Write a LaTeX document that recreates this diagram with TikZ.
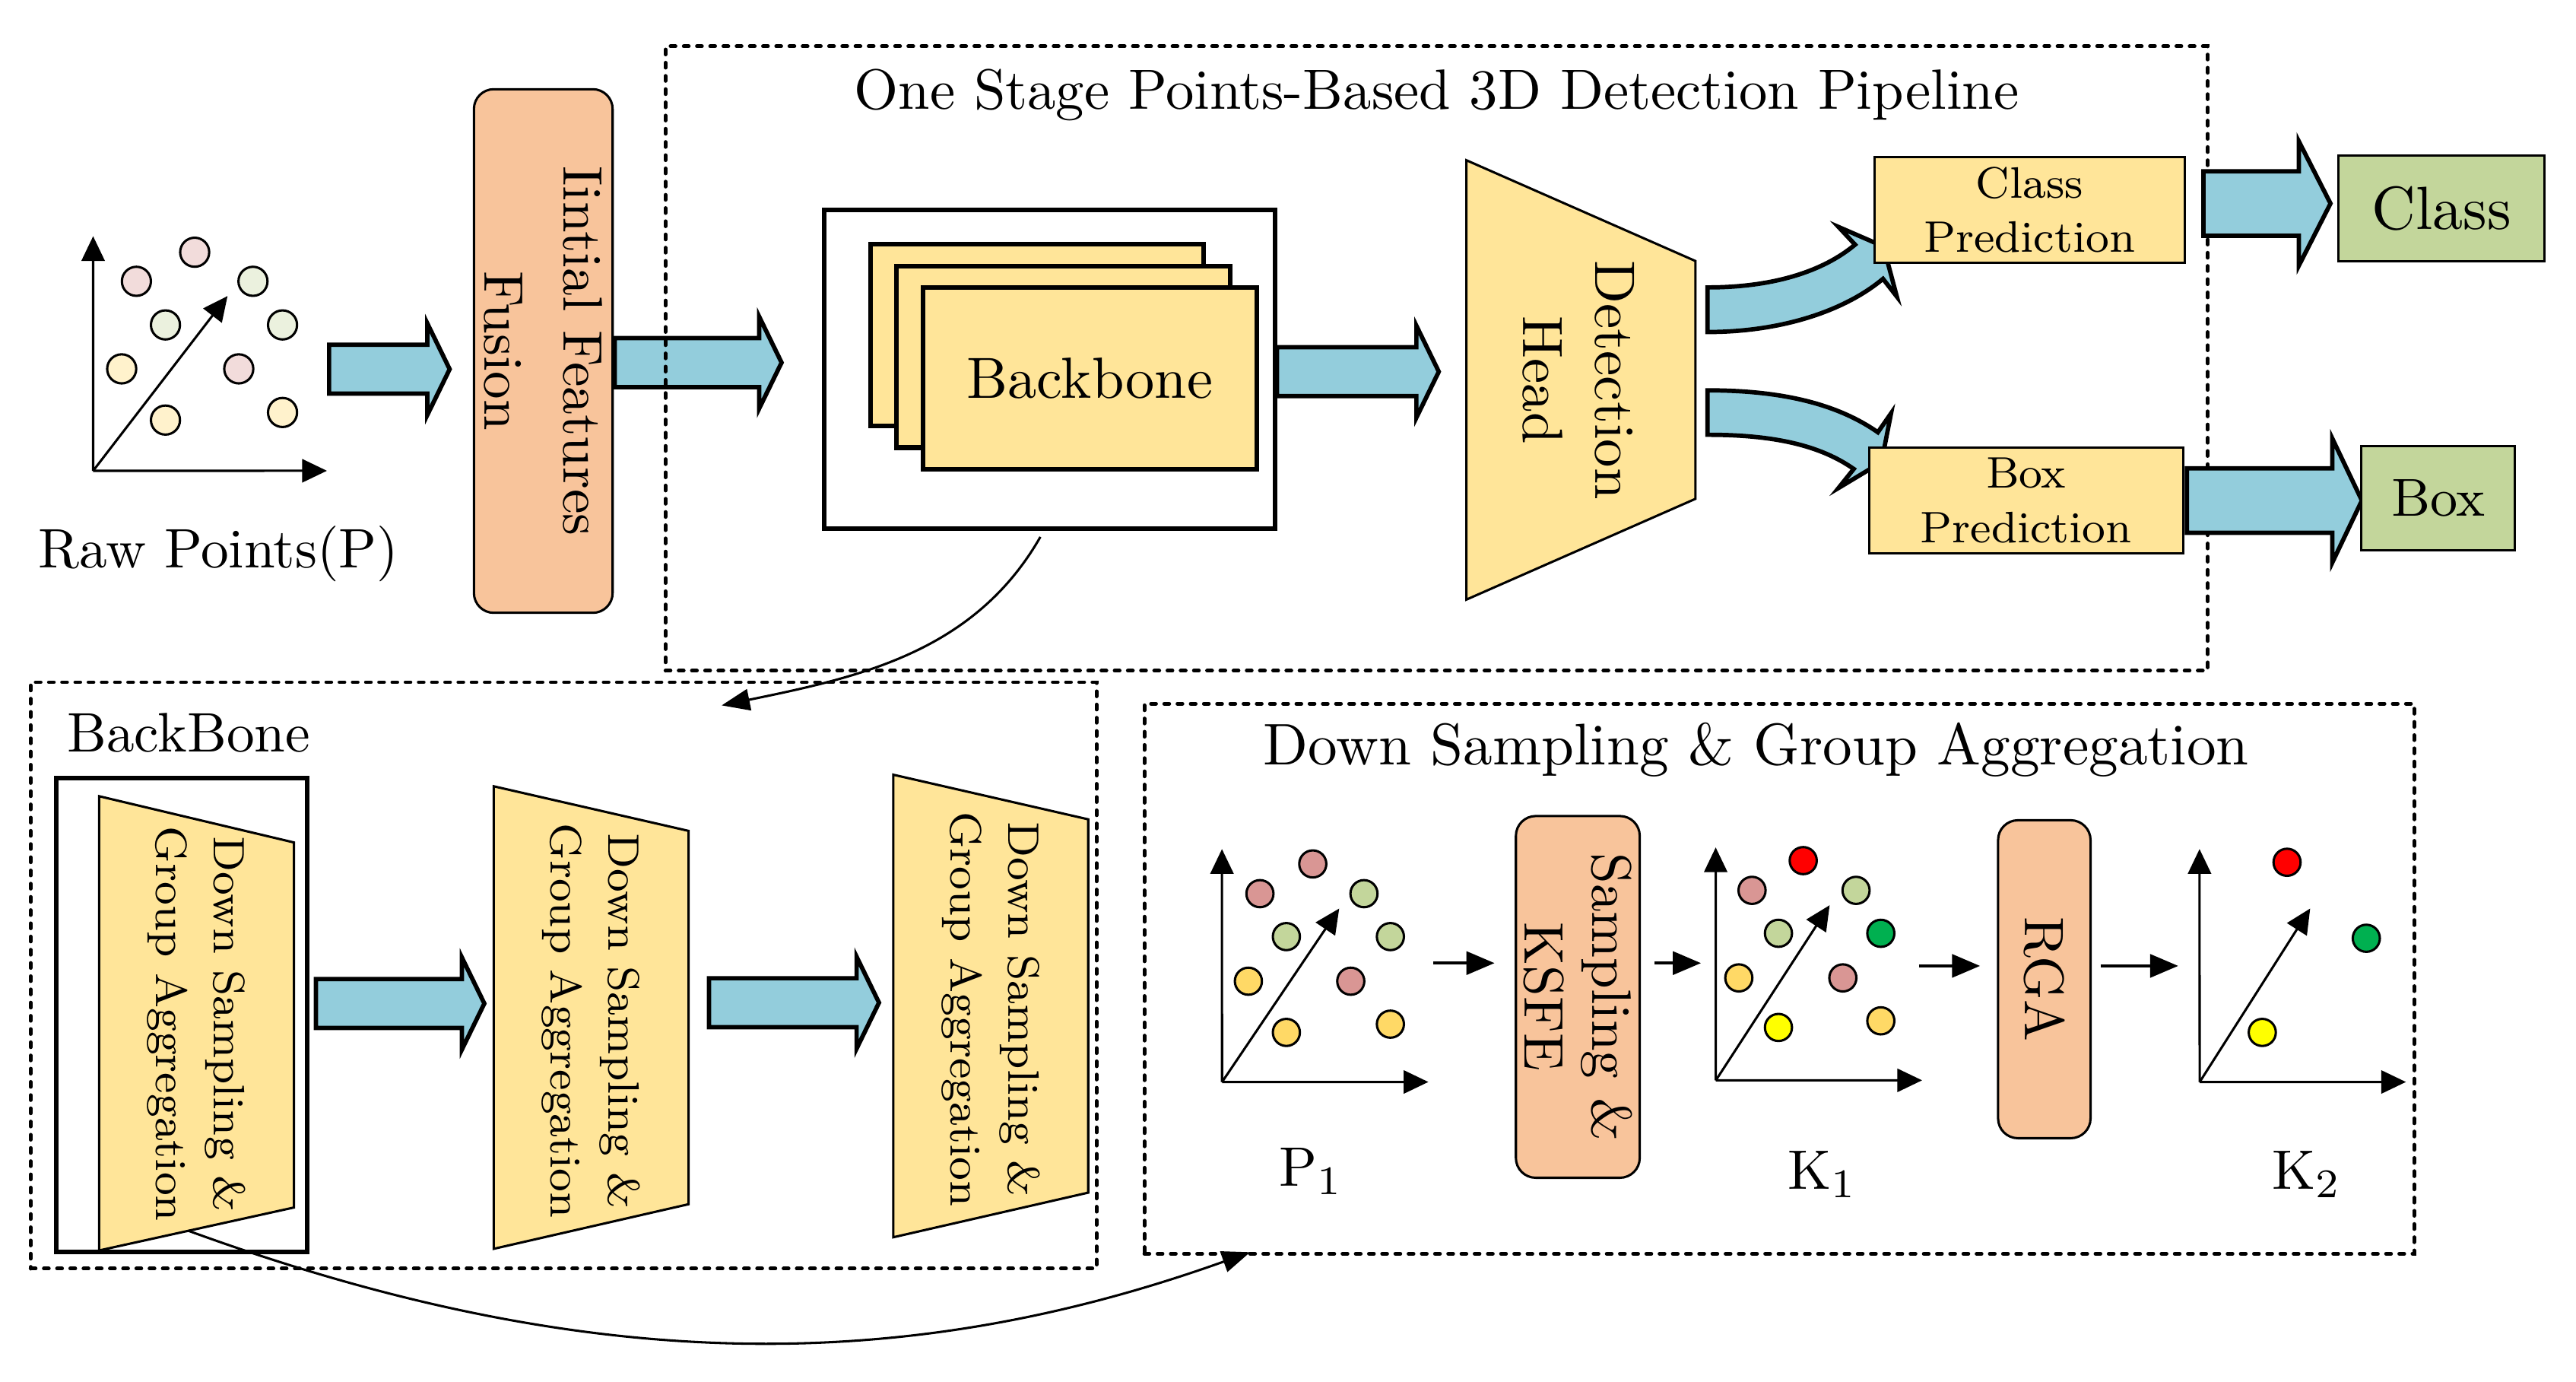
\documentclass[tikz,border=0pt]{standalone}
\usepackage{fontspec}
\usepackage{tikz}
\usepackage{xcolor}
\usetikzlibrary{shapes.arrows,arrows.meta}

\definecolor{arrowblue}{HTML}{93CDDC}
\definecolor{peach}{HTML}{F8C49B}
\definecolor{boxyellow}{HTML}{FFE599}
\definecolor{boxgreen}{HTML}{C3D69B}
\definecolor{palepink}{HTML}{F2DCDB}
\definecolor{palegreen}{HTML}{EBF1DE}
\definecolor{paleyellow}{HTML}{FFF2CC}
\definecolor{darkpink}{HTML}{D99694}
\definecolor{midgreen}{HTML}{C3D69B}
\definecolor{gold}{HTML}{FFD966}
\definecolor{ptred}{HTML}{FF0000}
\definecolor{ptgreen}{HTML}{00B050}
\definecolor{ptyellow}{HTML}{FFFF00}

\begin{document}
\begin{tikzpicture}[scale=0.1]
\tikzstyle{every node}+=[inner sep=0pt]
\tikzstyle{bigtext}=[font=\fontsize{9.6}{12}\selectfont]
\tikzstyle{smalltext}=[font=\fontsize{7.6}{10}\selectfont]
\tikzstyle{dashbox}=[draw=black, line width=0.65pt, dash pattern=on 0.3mm off 0.5mm, line cap=round]
\tikzstyle{thickbox}=[draw=black, line width=0.8pt]
\tikzstyle{stackbox}=[draw=black, line width=0.8pt, fill=boxyellow, minimum width=20.2mm, minimum height=11mm]
\tikzstyle{ybox}=[draw=black, line width=0.4pt, fill=boxyellow]
\tikzstyle{gbox}=[draw=black, line width=0.4pt, fill=boxgreen]
\tikzstyle{peachbox}=[draw=black, line width=0.4pt, fill=peach, rounded corners=1.2mm]
\tikzstyle{fatarrow}=[single arrow, draw=black, line width=0.75pt, fill=arrowblue, anchor=tail, inner xsep=0pt, inner ysep=1.35mm, single arrow head extend=1.3mm, single arrow tip angle=128]
\tikzstyle{bigarrow}=[fatarrow, inner ysep=1.82mm, single arrow head extend=1.82mm, single arrow tip angle=126]
\tikzstyle{axis}=[line width=0.4pt, -{Triangle[length=1.5mm,width=1.4mm]}]
\tikzstyle{pt}=[draw=black, line width=0.4pt]
\tikzstyle{smallarr}=[line width=0.5pt, -{Triangle[length=1.7mm,width=1.4mm]}]
\tikzstyle{link}=[line width=0.4pt, -{Triangle[length=1.7mm,width=1.3mm]}]
\useasboundingbox (0,0) rectangle (156,-83.66);

% raw points
\coordinate (rawo) at (5.64,-28.5);
\draw [axis] (rawo) -- (5.64,-14.3);
\draw [axis] (rawo) -- (19.8,-28.5);
\draw [axis] (rawo) -- (13.78,-17.92);
\draw [pt, fill=palepink] (11.79,-15.27) circle (0.88);
\draw [pt, fill=palepink] (8.26,-17.03) circle (0.88);
\draw [pt, fill=palegreen] (15.32,-17.03) circle (0.88);
\draw [pt, fill=palegreen] (10.02,-19.67) circle (0.88);
\draw [pt, fill=palegreen] (17.11,-19.67) circle (0.88);
\draw [pt, fill=paleyellow] (7.37,-22.33) circle (0.88);
\draw [pt, fill=palepink] (14.46,-22.33) circle (0.88);
\draw [pt, fill=paleyellow] (10.02,-25.43) circle (0.88);
\draw [pt, fill=paleyellow] (17.11,-24.97) circle (0.88);
\node [bigtext] (rawlbl) at (13.23,-33.53) {Raw Points(P)};

\node [fatarrow, minimum height=7.3mm] (a1) at (19.8,-22.35) {};
\node [peachbox, rotate=-90, minimum width=31.7mm, minimum height=8.4mm, align=center, font=\fontsize{9.6}{13.6}\selectfont] (iff) at (32.9,-21.25) {Iintial Features\\Fusion};
\node [fatarrow, minimum height=10.1mm] (a2) at (37.1,-21.95) {};

% pipeline
\node [dashbox, minimum width=93.4mm, minimum height=37.8mm] (pipe) at (87.0,-21.7) {};
\node [font=\fontsize{9.78}{12}\selectfont] (pipetitle) at (87.0,-5.75) {One Stage Points-Based 3D Detection Pipeline};
\node [thickbox, minimum width=27.3mm, minimum height=19.3mm] (bbout) at (63.55,-22.35) {};
\node [stackbox] (bb1) at (62.8,-20.3) {};
\node [stackbox] (bb2) at (64.4,-21.6) {};
\node [stackbox, font=\fontsize{10}{12}\selectfont] (bb3) at (66.0,-22.9) {Backbone};
\node [fatarrow, minimum height=9.8mm] (a3) at (77.2,-22.5) {};
\draw [ybox] (88.8,-9.7) -- (102.67,-15.8) -- (102.67,-30.2) -- (88.8,-36.3) -- cycle;
\node [rotate=-90, align=center, font=\fontsize{9.8}{12.5}\selectfont] (dettxt) at (95.6,-23.0) {Detection\\Head};
\draw [line width=0.75pt, fill=arrowblue] (103.4,-17.4) .. controls (107.4,-17.4) and (110.42,-16.42) .. (112.34,-14.81) -- (111.34,-13.74) -- (114.06,-14.92) -- (114.87,-17.96) -- (114.03,-16.88) .. controls (111.73,-18.81) and (107.9,-20.1) .. (103.4,-20.1) -- cycle;
\draw [line width=0.75pt, fill=arrowblue] (103.4,-23.63) .. controls (107.9,-23.63) and (111.26,-24.45) .. (113.72,-26.17) -- (114.52,-25.02) -- (113.94,-27.98) -- (111.34,-29.54) -- (112.26,-28.39) .. controls (110.21,-26.95) and (107.4,-26.32) .. (103.4,-26.32) -- cycle;
\node [ybox, minimum width=18.8mm, minimum height=6.4mm, align=center, font=\fontsize{7.6}{9.4}\selectfont] (clspred) at (122.9,-12.7) {Class\\Prediction};
\node [ybox, minimum width=19.0mm, minimum height=6.4mm, align=center, font=\fontsize{7.6}{9.4}\selectfont] (boxpred) at (122.7,-30.3) {Box\\Prediction};
\node [bigarrow, minimum height=7.7mm] (a6) at (133.3,-12.32) {};
\node [bigarrow, minimum height=10.6mm, single arrow head extend=1.8mm, single arrow tip angle=129] (a7) at (132.3,-30.3) {};
\node [gbox, minimum width=12.5mm, minimum height=6.4mm, font=\fontsize{10.5}{12}\selectfont] (cls) at (147.85,-12.6) {Class};
\node [gbox, minimum width=9.3mm, minimum height=6.3mm, font=\fontsize{9.2}{12}\selectfont] (box) at (147.65,-30.15) {Box};

% backbone
\node [dashbox, minimum width=64.55mm, minimum height=35.5mm] (bbdash) at (34.13,-59.05) {};
\node [bigtext, anchor=west] (bbtitle) at (4.0,-44.35) {BackBone};
\node [thickbox, minimum width=15.2mm, minimum height=28.7mm] (hl) at (11.0,-61.45) {};
\draw [ybox] (6.0,-48.2) -- (17.8,-51.0) -- (17.8,-73.1) -- (6.0,-75.7) -- cycle;
\draw [ybox] (29.9,-47.6) -- (41.7,-50.3) -- (41.7,-72.9) -- (29.9,-75.6) -- cycle;
\draw [ybox] (54.1,-46.9) -- (65.9,-49.6) -- (65.9,-72.2) -- (54.1,-74.9) -- cycle;
\node [smalltext, rotate=-90, align=center] (ds1txt) at (11.9,-62.0) {Down Sampling \&\\Group Aggregation};
\node [smalltext, rotate=-90, align=center] (ds2txt) at (35.8,-61.8) {Down Sampling \&\\Group Aggregation};
\node [smalltext, rotate=-90, align=center] (ds3txt) at (60.0,-61.1) {Down Sampling \&\\Group Aggregation};
\node [fatarrow, minimum height=10.2mm] (a4) at (19.0,-60.75) {};
\node [fatarrow, minimum height=10.3mm] (a5) at (42.8,-60.7) {};

% down sampling and group aggregation
\node [dashbox, minimum width=76.9mm, minimum height=33.3mm] (dsdash) at (107.75,-59.25) {};
\node [font=\fontsize{10.12}{12}\selectfont] (dstitle) at (106.35,-45.4) {Down Sampling \& Group Aggregation};
\coordinate (p1o) at (74.0,-65.5);
\draw [axis] (p1o) -- (74.0,-51.4);
\draw [axis] (p1o) -- (86.5,-65.5);
\draw [axis] (p1o) -- (81.1,-55.0);
\draw [pt, fill=darkpink] (79.5,-52.3) circle (0.82);
\draw [pt, fill=darkpink] (76.3,-54.1) circle (0.82);
\draw [pt, fill=midgreen] (82.6,-54.1) circle (0.82);
\draw [pt, fill=midgreen] (77.9,-56.7) circle (0.82);
\draw [pt, fill=midgreen] (84.2,-56.7) circle (0.82);
\draw [pt, fill=gold] (75.6,-59.4) circle (0.82);
\draw [pt, fill=darkpink] (81.8,-59.4) circle (0.82);
\draw [pt, fill=gold] (77.9,-62.5) circle (0.82);
\draw [pt, fill=gold] (84.2,-62.0) circle (0.82);
\node [bigtext] (p1lbl) at (79.4,-70.9) {P$_1$};
\node [peachbox, rotate=-90, minimum width=21.9mm, minimum height=7.5mm, align=center, font=\fontsize{9.6}{11.7}\selectfont] (ksfe) at (95.55,-60.35) {Sampling \&\\KSFE};
\coordinate (k1o) at (103.9,-65.4);
\draw [axis] (k1o) -- (103.9,-51.3);
\draw [axis] (k1o) -- (116.4,-65.4);
\draw [axis] (k1o) -- (110.8,-54.8);
\draw [pt, fill=ptred] (109.2,-52.1) circle (0.82);
\draw [pt, fill=darkpink] (106.1,-53.9) circle (0.82);
\draw [pt, fill=midgreen] (112.4,-53.9) circle (0.82);
\draw [pt, fill=midgreen] (107.7,-56.5) circle (0.82);
\draw [pt, fill=ptgreen] (113.9,-56.5) circle (0.82);
\draw [pt, fill=gold] (105.3,-59.2) circle (0.82);
\draw [pt, fill=darkpink] (111.6,-59.2) circle (0.82);
\draw [pt, fill=ptyellow] (107.7,-62.2) circle (0.82);
\draw [pt, fill=gold] (113.9,-61.8) circle (0.82);
\node [bigtext] (k1lbl) at (110.36,-71.1) {K$_1$};
\node [peachbox, rotate=-90, minimum width=19.25mm, minimum height=5.6mm, bigtext] (rga) at (123.8,-59.28) {RGA};
\coordinate (k2o) at (133.2,-65.5);
\draw [axis] (k2o) -- (133.2,-51.4);
\draw [axis] (k2o) -- (145.7,-65.5);
\draw [axis] (k2o) -- (139.9,-55.0);
\draw [pt, fill=ptred] (138.5,-52.2) circle (0.82);
\draw [pt, fill=ptgreen] (143.3,-56.8) circle (0.82);
\draw [pt, fill=ptyellow] (137.0,-62.5) circle (0.82);
\node [bigtext] (k2lbl) at (139.7,-71.1) {K$_2$};
\coordinate (s1a) at (86.8,-58.3);
\coordinate (s1b) at (90.5,-58.3);
\coordinate (s2a) at (100.2,-58.3);
\coordinate (s2b) at (103.0,-58.3);
\coordinate (s3a) at (116.2,-58.47);
\coordinate (s3b) at (119.9,-58.47);
\coordinate (s4a) at (127.2,-58.47);
\coordinate (s4b) at (131.9,-58.47);
\draw [smallarr] (s1a) -- (s1b);
\draw [smallarr] (s2a) -- (s2b);
\draw [smallarr] (s3a) -- (s3b);
\draw [smallarr] (s4a) -- (s4b);

% links
\coordinate (c1a) at (63.0,-32.5);
\coordinate (c1b) at (43.7,-42.7);
\draw [link] (c1a) .. controls (59.0,-39.5) and (52.0,-41.0) .. (c1b);
\coordinate (c2a) at (11.4,-74.5);
\coordinate (c2b) at (75.7,-75.8);
\draw [link] (c2a) .. controls (35.8,-83.4) and (55.0,-83.2) .. (c2b);
\end{tikzpicture}
\end{document}
